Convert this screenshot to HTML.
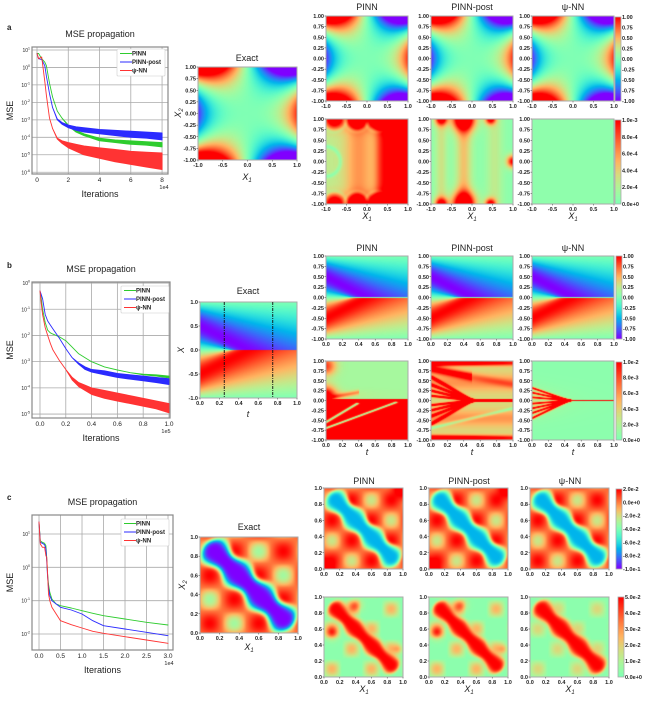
<!DOCTYPE html>
<html><head><meta charset="utf-8"><style>
html,body{margin:0;padding:0;background:#fff}
#root{position:relative;width:648px;height:703px;overflow:hidden;font-family:"Liberation Sans",Arial,sans-serif}
canvas{position:absolute;image-rendering:auto}
svg{position:absolute;left:0;top:0}
svg text{font-family:"Liberation Sans",Arial,sans-serif}
</style></head><body>
<div id="root">
<svg id="sv" width="648" height="703"></svg>
</div>
<script>
// ---------- MSE data (x in units of axis multiplier, y = log10 MSE) ----------
const aX = [0,0.1,0.3,0.5,0.6,0.8,1,1.3,1.6,2,2.5,3,4,5,6,7,8];
const aPinnLo = [0.8,0.8,0.5,0.3,0.1,-0.9,-1.7,-2.5,-2.9,-3.35,-3.7,-3.9,-4.2,-4.3,-4.4,-4.45,-4.55];
const aPinnHi = [0.8,0.8,0.5,0.3,0.1,-0.9,-1.7,-2.5,-2.9,-3.3,-3.6,-3.8,-4.05,-4.15,-4.2,-4.25,-4.3];
const aPostLo = [0.8,0.5,0.45,0.1,-0.5,-1.5,-2.3,-3.0,-3.25,-3.45,-3.6,-3.7,-3.8,-3.9,-4.0,-4.05,-4.15];
const aPostHi = [0.8,0.5,0.45,0.1,-0.5,-1.5,-2.3,-2.95,-3.15,-3.3,-3.4,-3.45,-3.55,-3.6,-3.65,-3.7,-3.75];
const aPsiLo = [0.8,0.5,0.6,-0.8,-1.6,-2.9,-3.5,-4.1,-4.35,-4.6,-4.8,-5.0,-5.2,-5.4,-5.55,-5.7,-5.85];
const aPsiHi = [0.8,0.5,0.6,-0.8,-1.6,-2.9,-3.5,-4.05,-4.2,-4.3,-4.4,-4.5,-4.6,-4.7,-4.8,-4.85,-4.9];

const bX = [0,0.01,0.02,0.04,0.06,0.08,0.1,0.15,0.2,0.25,0.3,0.35,0.4,0.5,0.6,0.7,0.8,0.9,1.0];
const bPinnLo = [-0.3,-0.6,-1.0,-1.5,-1.8,-1.9,-1.95,-2.05,-2.2,-2.45,-2.7,-2.85,-3.0,-3.2,-3.32,-3.42,-3.5,-3.55,-3.62];
const bPinnHi = [-0.3,-0.6,-1.0,-1.5,-1.8,-1.9,-1.95,-2.05,-2.2,-2.45,-2.7,-2.85,-3.0,-3.2,-3.32,-3.42,-3.48,-3.5,-3.55];
const bPostLo = [-0.3,-0.45,-0.6,-1.2,-1.45,-1.6,-1.75,-2.1,-2.5,-2.85,-3.1,-3.3,-3.4,-3.5,-3.6,-3.67,-3.73,-3.8,-3.87];
const bPostHi = [-0.3,-0.45,-0.6,-1.2,-1.45,-1.6,-1.75,-2.1,-2.5,-2.85,-3.05,-3.2,-3.3,-3.35,-3.45,-3.5,-3.55,-3.6,-3.65];
const bPsiLo = [-0.3,-0.8,-1.2,-1.7,-2.0,-2.3,-2.55,-2.95,-3.3,-3.7,-3.95,-4.1,-4.25,-4.4,-4.5,-4.6,-4.7,-4.8,-4.95];
const bPsiHi = [-0.3,-0.8,-1.2,-1.7,-2.0,-2.3,-2.55,-2.95,-3.3,-3.6,-3.8,-3.9,-4.0,-4.1,-4.2,-4.3,-4.4,-4.5,-4.6];

const cX = [0,0.03,0.08,0.13,0.16,0.18,0.2,0.22,0.25,0.3,0.4,0.5,0.75,1,1.25,1.5,2,2.5,3];
const cPinn = [1.36,0.8,0.75,0.72,0.65,0.3,-0.2,-0.5,-0.75,-0.95,-1.1,-1.15,-1.22,-1.3,-1.38,-1.45,-1.55,-1.65,-1.73];
const cPost = [1.36,0.75,0.72,0.68,0.55,0.2,-0.3,-0.6,-0.85,-1.0,-1.1,-1.2,-1.28,-1.4,-1.6,-1.75,-1.85,-1.95,-2.05];
const cPsi = [1.36,0.7,0.6,0.6,0.35,0.3,-0.2,-0.8,-1.0,-1.2,-1.4,-1.6,-1.72,-1.82,-1.92,-1.98,-2.08,-2.18,-2.28];

const aXTicks = [0,2,4,6,8];
const bXTicks = [0,0.2,0.4,0.6,0.8,1.0];
const cXTicks = [0,0.5,1,1.5,2,2.5,3];
const aYTicks = [1,0,-1,-2,-3,-4,-5,-6];
const bYTicks = [0,-1,-2,-3,-4,-5];
const cYTicks = [1,0,-1,-2];
const seriesNames = ["PINN","PINN-post","ψ-NN"];
const seriesColors = ["#2ecc2e","#2b2bff","#ff3333"];

const tickPM1 = ["1.00","0.75","0.50","0.25","0.00","-0.25","-0.50","-0.75","-1.00"];
const tickPM1x = ["-1.0","-0.5","0.0","0.5","1.0"];
const tick01 = ["0.0","0.2","0.4","0.6","0.8","1.0"];
const tickPM1short = ["1.0","0.5","0.0","-0.5","-1.0"];
const cbA1 = ["1.00","0.75","0.50","0.25","0.00","-0.25","-0.50","-0.75","-1.00"];
const cbA2 = ["1.0e-3","8.0e-4","6.0e-4","4.0e-4","2.0e-4","0.0e+0"];
const cbB2 = ["1.0e-2","8.0e-3","6.0e-3","4.0e-3","2.0e-3","0.0e+0"];
const cbC1 = ["2.0e-2","0.0e+0","-2.0e-2","-4.0e-2","-6.0e-2","-8.0e-2","-1.0e-1"];
const cbC2 = ["5.0e-2","4.0e-2","3.0e-2","2.0e-2","1.0e-2","0.0e+0"];
const raysPost = [-0.6,-0.4,-0.25,-0.12,0.12,0.25,0.4,0.6];
const raysPsi = [-0.45,-0.32,-0.2,-0.08,0.08,0.2,0.32];

const NS="http://www.w3.org/2000/svg";
const sv=document.getElementById('sv');
const root=document.getElementById('root');
function mk(tag,attrs,parent){const e=document.createElementNS(NS,tag);for(const k in attrs)e.setAttribute(k,attrs[k]);(parent||sv).appendChild(e);return e;}
function txt(x,y,s,size,anchor,parent,extra){const e=mk('text',Object.assign({x:x,y:y,'font-size':size,'text-anchor':anchor||'start',fill:'#222'},extra||{}),parent);e.textContent=s;return e;}

function cmap(t){t=Math.max(0,Math.min(1,t));let r=Math.abs(2*t-0.5),g=Math.sin(Math.PI*t),b=Math.cos(Math.PI*t/2);return [Math.min(1,r)*255,Math.max(0,g)*255,Math.max(0,b)*255];}
function heat(x,y,w,h,x0,x1,y0,y1,fn,name){
  const c=document.createElement('canvas');c.width=w;c.height=h;c.style.left=x+'px';c.style.top=y+'px';
  
  
  root.insertBefore(c,sv);
  const ctx=c.getContext('2d');const im=ctx.createImageData(w,h);
  for(let j=0;j<h;j++)for(let i=0;i<w;i++){const u=x0+(x1-x0)*(i+0.5)/w,v=y1-(y1-y0)*(j+0.5)/h;const col=cmap(fn(u,v));const k=(j*w+i)*4;im.data[k]=col[0];im.data[k+1]=col[1];im.data[k+2]=col[2];im.data[k+3]=255;}
  ctx.putImageData(im,0,0);
  const r=mk('rect',{x:x,y:y,width:w,height:h,fill:'none',stroke:'#aaa','stroke-width':1});
  
  
}
function axesLabels(x,y,w,h,ylabels,xlabels,size){
  size=size||5.5;
  ylabels.forEach((s,i)=>{const yy=y+h*i/(ylabels.length-1);mk('line',{x1:x-1.5,y1:yy,x2:x,y2:yy,stroke:'#444','stroke-width':0.5});const t=txt(x-2,yy+2,s,size,'end',null,{'font-weight':'bold'});});
  xlabels.forEach((s,i)=>{const xx=x+w*i/(xlabels.length-1);mk('line',{x1:xx,y1:y+h,x2:xx,y2:y+h+1.5,stroke:'#444','stroke-width':0.5});const t=txt(xx,y+h+7,s,size,'middle',null,{'font-weight':'bold'});});
}
function colorbar(x,y,h,t0,t1,labels,name){
  const c=document.createElement('canvas');c.width=6;c.height=h;c.style.left=x+'px';c.style.top=y+'px';
  
  
  root.insertBefore(c,sv);const ctx=c.getContext('2d');
  for(let j=0;j<h;j++){const col=cmap(t1-(t1-t0)*j/(h-1));ctx.fillStyle='rgb('+col.map(Math.round).join(',')+')';ctx.fillRect(0,j,6,1);}
  mk('rect',{x:x,y:y,width:6,height:h,fill:'none',stroke:'#aaa','stroke-width':0.8});
  labels.forEach((s,i)=>{const yy=y+h*i/(labels.length-1);const t=txt(x+7,yy+2,s,5.5,'start',null,{'font-weight':'bold'});});
}
function title(x,y,s,size,name){const t=txt(x,y,s,size||9,'middle');return t;}
function italicSub(x,y,base,sub,rot,name){
  const attrs={x:x,y:y,'font-size':9,'font-style':'italic','text-anchor':'middle',fill:'#222'};
  if(rot)attrs.transform='rotate(-90 '+x+' '+y+')';
  const g=mk('text',attrs);
  g.appendChild(document.createTextNode(base));
  if(sub){const s=mk('tspan',{'font-size':6,dy:2},g);s.textContent=sub;}
  
  
}

function mse(box,xr,yr,xT,xTlab,yT,xs,series,mult,legend,label){
  const [L,T,R,B]=box;
  const sx=v=>L+(v-xr[0])/(xr[1]-xr[0])*(R-L);
  const sy=v=>T+(yr[1]-v)/(yr[1]-yr[0])*(B-T);
  const g=mk('g',{});
  
  
  const clipId='clip'+label;const cp=mk('clipPath',{id:clipId},g);mk('rect',{x:L,y:T,width:R-L,height:B-T},cp);
  xT.forEach((v,i)=>{const l=mk('line',{x1:sx(v),y1:T,x2:sx(v),y2:B,stroke:'#aaa','stroke-width':0.8},g);
    const t=txt(sx(v),B+8,xTlab[i],6.5,'middle',g);});
  yT.forEach(v=>{const l=mk('line',{x1:L,y1:sy(v),x2:R,y2:sy(v),stroke:'#aaa','stroke-width':0.8},g);
    const t=mk('text',{x:L-2,y:sy(v)+2,'font-size':5,'text-anchor':'end',fill:'#222'},g);t.appendChild(document.createTextNode('10'));const sp=mk('tspan',{'font-size':3.5,dy:-2.5},t);sp.textContent=String(v);
    });
  const sg=mk('g',{'clip-path':'url(#'+clipId+')'},g);
  series.forEach((s,k)=>{
    const lo=s[0],hi=s[1];
    let d='M'+xs.map((v,i)=>sx(v).toFixed(1)+','+sy(hi[i]).toFixed(1)).join('L');
    d+='L'+xs.map((v,i)=>i).reverse().map(i=>sx(xs[i]).toFixed(1)+','+sy(lo[i]).toFixed(1)).join('L')+'Z';
    const p=mk('path',{d:d,fill:seriesColors[k],stroke:seriesColors[k],'stroke-width':0.9,'stroke-linejoin':'round'},sg);
    
    
  });
  mk('rect',{x:L,y:T,width:R-L,height:B-T,fill:'none',stroke:'#888','stroke-width':1.2},g);
  const m=txt(R-4,B+15,mult,5.5,'middle',g);
  const lx=legend[0],ly=legend[1];
  const lb=mk('rect',{x:lx,y:ly,width:48,height:27,fill:'#fff',stroke:'#ccc','stroke-width':0.6,rx:1},g);
  
  
  seriesNames.forEach((n,k)=>{const yy=ly+4.5+k*8.5;mk('line',{x1:lx+3,y1:yy,x2:lx+15,y2:yy,stroke:seriesColors[k],'stroke-width':1},g);
    const t=txt(lx+15,yy+2,n,6,'start',g,{'font-weight':'bold'});});
  title((L+R)/2,T-10,'MSE propagation',9,'mse-title');
  title((L+R)/2,B+23,'Iterations',9,'x-axis-title');
  const yl=txt(13,(T+B)/2,'MSE',9,'middle',null,{transform:'rotate(-90 13 '+(T+B)/2+')'});
  
  
}

[['a',30],['b',268],['c',500]].forEach(p=>{const t=txt(7,p[1],p[0],8,'start',null,{'font-weight':'bold'});});

mse([32,47,168,174],[-0.32,8.38],[-6.1,1.17],aXTicks,["0","2","4","6","8"],aYTicks,aX,[[aPinnLo,aPinnHi],[aPostLo,aPostHi],[aPsiLo,aPsiHi]],'1e4',[117,49],'a');
mse([32,282,170,418],[-0.062,1.008],[-5.15,0.04],bXTicks,["0.0","0.2","0.4","0.6","0.8","1.0"],bYTicks,bX,[[bPinnLo,bPinnHi],[bPostLo,bPostHi],[bPsiLo,bPsiHi]],'1e5',[121,286],'b');
mse([32,515,173,650],[-0.163,3.116],[-2.48,1.57],cXTicks,["0.0","0.5","1.0","1.5","2.0","2.5","3.0"],cYTicks,cX,[[cPinn,cPinn],[cPost,cPost],[cPsi,cPsi]],'1e4',[121,519],'c');

// ---------- fields ----------
const clamp=(v,a,b)=>Math.max(a,Math.min(b,v));
const sq=v=>v*v;
const p4=v=>v*v*v*v;
const g2=(x,y,cx,cy,r)=>Math.exp(-(sq(x-cx)+sq(y-cy))/(r*r));
function aExact(x,y){return (clamp(0.9*(x*x*x-3*x*y*y),-1,1)+1)/2;}
function aErrPinn(x,y){let e=0.25+0.35*Math.exp(-sq((x+0.2)/0.35))+0.8/(1+Math.exp(-(x-0.25)/0.07));
  [-0.8,-0.25,0.25].forEach(cx=>{[-1,1].forEach(cy=>{e+=1.2*g2(x,y,cx,cy,0.22)-0.15*Math.exp(-sq((Math.hypot(x-cx,y-cy)-0.3)/0.05));});});
  e-=0.2*Math.exp(-sq((Math.hypot(x+1,y)-0.35)/0.05));return 0.5+0.5*clamp(e,0,1);}
function aErrPost(x,y){let e=0.05+0.4*Math.exp(-sq((x+0.2)/0.2))+0.2*Math.exp(-sq((x-0.55)/0.2))+0.25*Math.exp(-sq((x+0.75)/0.15));
  [[-0.2,0.28,1.3],[-0.75,0.15,1],[0.45,0.13,1]].forEach(p=>{[-1,1].forEach(cy=>{e+=p[2]*g2(x,y,p[0],cy,p[1]);});});
  e+=1.0*g2(x,y,1,0,0.15);return 0.5+0.5*clamp(e,0,1);}
function aErrPsi(x,y){return 0.5+0.5*0.06;}
function burgers(t,x){if(Math.abs(x)<1e-9)return 0;const s=x<0?-1:1;const ax=Math.abs(x);
  let lo=null,hi=1;for(let xi=1;xi>=0;xi-=0.01){if(xi-t*Math.sin(Math.PI*xi)-ax<0){lo=xi;break;}}
  if(lo===null)return 0;for(let k=0;k<30;k++){const m=(lo+hi)/2;if(m-t*Math.sin(Math.PI*m)-ax<0)lo=m;else hi=m;}
  return -s*Math.sin(Math.PI*(lo+hi)/2);}
function bExact(t,x){return (burgers(t,x)+1)/2;}
function segD(px,py,ax,ay,bx,by){const dx=bx-ax,dy=by-ay;const u=clamp(((px-ax)*dx+(py-ay)*dy)/(dx*dx+dy*dy),0,1);return Math.hypot(px-ax-u*dx,py-ay-u*dy);}
function bErrPinn(t,x){let e;
  if(x<0.04){e=1;[[-0.55,0.38,-0.08],[-0.7,0.85,-0.05]].forEach(r=>{const d=segD(t,x,0,r[0],r[1],r[2]);e-=0.9*Math.exp(-sq(d/0.02));});}
  else{e=0.15+0.7*Math.exp(-sq(t/0.12))*(0.6+0.4*Math.sin(x*9))+0.3*Math.exp(-sq((x-0.15)/0.12))*Math.exp(-t/0.3);
   e+=0.4*Math.exp(-sq((x-0.05-0.4*t)/0.06))*(t<0.4?1:0);}
  return 0.5+0.5*clamp(e,0,1);}
function bErrPost(t,x){let e=0.35+0.25*Math.exp(-sq((Math.abs(x)-0.45)/0.2))+1.2*Math.exp(-sq((Math.abs(x)-0.95)/0.07))*(1-0.5*t);
  e+=0.8*Math.exp(-sq((x-0.8+0.4*t)/0.1))*(t<0.5?1:0.3);
  raysPost.forEach(r=>{const d=segD(t,x,0,r,0.5,0);e+=0.9*Math.exp(-sq(d/0.03));});
  if(t>0.4&&Math.abs(x)<0.035)e=1;
  e-=0.3*Math.exp(-sq((x+0.7-0.5*t)/0.04));
  return 0.5+0.5*clamp(e,0,1);}
function bErrPsi(t,x){let e=0.05+0.25*Math.exp(-sq((x+0.05)/0.35))*Math.exp(-t/0.25);
  raysPsi.forEach(r=>{const d=segD(t,x,0,r,0.45,0);e+=Math.exp(-sq(d/0.025));});
  if(t>0.38&&Math.abs(x)<0.025)e=1;return 0.5+0.5*clamp(e,0,1);}
function checker(x,y){return Math.cos(4*Math.PI*(x-0.1))*Math.cos(4*Math.PI*(y-0.1));}
function tube(x,y,r){const d=segD(x,y,0.15,0.85,0.85,0.15);const w=r*(1+0.18*Math.cos(2*Math.PI*((x-y)+0.7)/0.47));return Math.exp(-p4(d/w));}
function cExact(x,y){const ch=checker(x,y);const c=ch>0?0.85+0.15*ch:0.85+0.28*ch;const d=tube(x,y,0.13);return c*(1-d);}
function cPred(k){return function(x,y){const ch=checker(x,y);const c=ch>0?0.86+0.14*ch:0.86+0.22*ch;const d=tube(x,y,0.12);let v=c*(1-d)+0.25*d;
  if(k<2){v+=0.2*Math.exp(-sq((x+y-1.95)/0.12))+0.2*Math.exp(-sq((x+y-0.05)/0.1));} return clamp(v,0,1);};}
function cErr(k){return function(x,y){const ch=checker(x,y);let e=0.05+(ch>0?0.45*ch:0)*(k<2?1:0.7);const d=tube(x,y,k<2?0.1:0.11);e=e*(1-d)+d;
  if(k<2){e+=0.5*g2(x,y,0.1,0.55,0.08)+0.4*g2(x,y,0.4,0.9,0.08)+0.3*g2(x,y,0.95,0.35,0.06);}return 0.5+0.5*clamp(e,0,1);};}

// ---------- panel a ----------
const colX=[326,431,532],hw=82;
heat(198,67,99,93,-1,1,-1,1,aExact,'exact-heatmap-a');axesLabels(198,67,99,93,tickPM1,tickPM1x,5.5);
title(247,61,'Exact',9,'exact-title-a');italicSub(181,113,'X','2',true,'y-axis-title-a');italicSub(247,180,'X','1',false,'x-axis-title-a');
[aExact,aExact,aExact].forEach((f,i)=>{heat(colX[i],16,hw,85,-1,1,-1,1,f,'pred-heatmap-a-'+i);axesLabels(colX[i],16,hw,85,tickPM1,tickPM1x);});
[aErrPinn,aErrPost,aErrPsi].forEach((f,i)=>{heat(colX[i],119,hw,85,-1,1,-1,1,f,'error-heatmap-a-'+i);axesLabels(colX[i],119,hw,85,tickPM1,tickPM1x);italicSub(colX[i]+hw/2,219,'X','1',false,'x-axis-title');});
colorbar(615,17,84,0,1,cbA1,'colorbar-a-top');colorbar(615,120,84,0.5,1,cbA2,'colorbar-a-bottom');
seriesNames.forEach((n,i)=>title(colX[i]+hw/2,10,n,9,'column-title-a'));

// ---------- panel b ----------
heat(200,302,97,96,0,1,-1,1,bExact,'exact-heatmap-b');axesLabels(200,302,97,96,tickPM1short,tick01,5.5);
[0.25,0.75].forEach(v=>{const l=mk('line',{x1:200+97*v,y1:302,x2:200+97*v,y2:398,stroke:'#111','stroke-width':0.9,'stroke-dasharray':'3,1,1,1'});});
title(248,294,'Exact',9,'exact-title-b');italicSub(184,350,'X','',true,'y-axis-title-b');italicSub(248,417,'t','',false,'x-axis-title-b');
[bExact,bExact,bExact].forEach((f,i)=>{heat(colX[i],256,hw,83,0,1,-1,1,f,'pred-heatmap-b-'+i);axesLabels(colX[i],256,hw,83,tickPM1,tick01);});
[bErrPinn,bErrPost,bErrPsi].forEach((f,i)=>{heat(colX[i],361,hw,79,0,1,-1,1,f,'error-heatmap-b-'+i);axesLabels(colX[i],361,hw,79,tickPM1,tick01);italicSub(colX[i]+hw/2,455,'t','',false,'x-axis-title');});
colorbar(616,256,83,0,1,cbA1,'colorbar-b-top');colorbar(616,362,78,0.5,1,cbB2,'colorbar-b-bottom');
seriesNames.forEach((n,i)=>title(colX[i]+hw/2,251,n,9,'column-title-b'));

// ---------- panel c ----------
heat(200,537,98,96,0,1,0,1,cExact,'exact-heatmap-c');axesLabels(200,537,98,96,tick01.slice().reverse(),tick01,5.5);
title(249,530,'Exact',9,'exact-title-c');italicSub(185,585,'X','2',true,'y-axis-title-c');italicSub(249,650,'X','1',false,'x-axis-title-c');
[cPred(0),cPred(1),cPred(2)].forEach((f,i)=>{heat(colX[i]-2,488,hw-3,81,0,1,0,1,f,'pred-heatmap-c-'+i);axesLabels(colX[i]-2,488,hw-3,81,tick01.slice().reverse(),tick01);});
[cErr(0),cErr(1),cErr(2)].forEach((f,i)=>{heat(colX[i]-2,597,hw-3,80,0,1,0,1,f,'error-heatmap-c-'+i);axesLabels(colX[i]-2,597,hw-3,80,tick01.slice().reverse(),tick01);italicSub(colX[i]+hw/2-3,692,'X','1',false,'x-axis-title');});
colorbar(616,489,80,0,1,cbC1,'colorbar-c-top');colorbar(618,597,80,0.5,1,cbC2,'colorbar-c-bottom');
seriesNames.forEach((n,i)=>title(colX[i]+hw/2-3,484,n,9,'column-title-c'));
</script>
</body></html>
